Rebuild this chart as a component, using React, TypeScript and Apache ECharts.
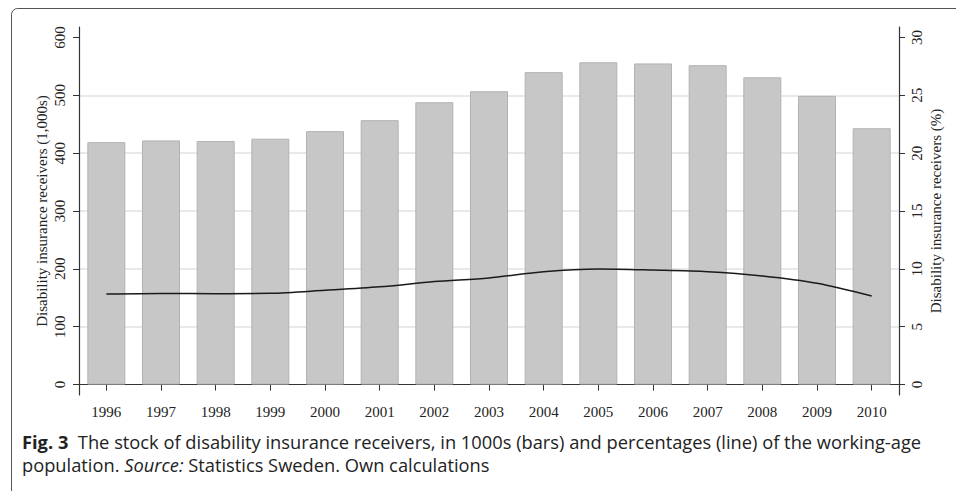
import React, { useEffect, useRef } from "react";
import * as echarts from "echarts";

const years = ["1996", "1997", "1998", "1999", "2000", "2001", "2002", "2003", "2004", "2005", "2006", "2007", "2008", "2009", "2010"];
const receivers = [419, 422, 421, 425, 438, 457, 488, 507, 540, 557, 555, 552, 531, 499, 443];
const percentages = [7.83, 7.88, 7.86, 7.89, 8.15, 8.45, 8.9, 9.22, 9.76, 9.99, 9.9, 9.76, 9.39, 8.76, 7.66];
const leftTicks = [0, 100, 200, 300, 400, 500, 600];
const rightTicks = [0, 5, 10, 15, 20, 25, 30];

const leftName = "Disability insurance receivers (1,000s)";
const rightName = "Disability insurance receivers (%)";
const captionLine1 = ["Fig. 3", "  The stock of disability insurance receivers, in 1000s (bars) and percentages (line) of the working-age"];
const captionLine2 = ["population. ", "Source:", " Statistics Sweden. Own calculations"];

const SERIF = "'Liberation Serif', 'Times New Roman', serif";
const SANS = "'Open Sans', 'Noto Sans', sans-serif";
const AXIS_COLOR = "#333";
const TEXT_COLOR = "#222";

export default function App() {
  const ref = useRef<HTMLDivElement>(null);

  useEffect(() => {
    if (!ref.current) return;
    const chart = echarts.init(ref.current, undefined, { renderer: "svg" });
    const capSize = 18.3;
    const option = {
      animation: false,
      backgroundColor: "#fff",
      grid: { left: 79, right: 57, top: 27, bottom: 96, containLabel: false },
      xAxis: {
        type: "category",
        data: years,
        boundaryGap: true,
        axisLine: { show: true, lineStyle: { color: AXIS_COLOR, width: 1.2 } },
        axisTick: { show: true, alignWithLabel: true, length: 6, lineStyle: { color: AXIS_COLOR } },
        axisLabel: { color: TEXT_COLOR, fontFamily: SERIF, fontSize: 15, margin: 9 },
        splitLine: { show: false },
      },
      yAxis: [
        {
          type: "value",
          position: "left",
          min: -18,
          max: 618,
          name: leftName,
          nameLocation: "middle",
          nameRotate: 90,
          nameGap: 30,
          nameMoveOverlap: false,
          nameTextStyle: { color: TEXT_COLOR, fontFamily: SERIF, fontSize: 15 },
          axisLine: { show: true, lineStyle: { color: AXIS_COLOR, width: 1.2 } },
          axisTick: { show: true, length: 6, customValues: leftTicks, lineStyle: { color: AXIS_COLOR } },
          axisLabel: { rotate: 90, customValues: leftTicks, color: TEXT_COLOR, fontFamily: SERIF, fontSize: 15, margin: 12 },
          splitLine: { show: true, showMinLine: false, showMaxLine: false, lineStyle: { color: "#e2e2e2", width: 1.5 } },
        },
        {
          type: "value",
          position: "right",
          min: -0.9,
          max: 30.9,
          name: rightName,
          nameLocation: "middle",
          nameRotate: 90,
          nameGap: 29,
          nameMoveOverlap: false,
          nameTextStyle: { color: TEXT_COLOR, fontFamily: SERIF, fontSize: 15 },
          axisLine: { show: true, lineStyle: { color: AXIS_COLOR, width: 1.2 } },
          axisTick: { show: true, length: 6, customValues: rightTicks, lineStyle: { color: AXIS_COLOR } },
          axisLabel: { rotate: 90, customValues: rightTicks, color: TEXT_COLOR, fontFamily: SERIF, fontSize: 15, margin: 10 },
          splitLine: { show: false },
        },
      ],
      series: [
        {
          type: "bar",
          data: receivers,
          yAxisIndex: 0,
          barWidth: 38,
          itemStyle: { color: "#c6c7c6", borderColor: "#b2b2b2", borderWidth: 1 },
          silent: true,
        },
        {
          type: "line",
          data: percentages,
          yAxisIndex: 1,
          symbol: "none",
          smooth: 0.3,
          lineStyle: { color: "#1a1a1a", width: 1.5 },
          silent: true,
        },
      ],
      graphic: [
        {
          type: "rect",
          shape: { x: 11.5, y: 8.5, width: 960, height: 520, r: 6 },
          style: { fill: "none", stroke: "#555", lineWidth: 1 },
          silent: true,
          z: 100,
        },
        {
          type: "text",
          x: 22,
          y: 441,
          style: {
            text: `{b|${captionLine1[0]}}{n|${captionLine1[1]}}`,
            verticalAlign: "middle",
            rich: {
              b: { fontFamily: SANS, fontSize: capSize, fontWeight: "bold", fill: "#222" },
              n: { fontFamily: SANS, fontSize: capSize, fill: "#222" },
            },
          },
          z: 100,
        },
        {
          type: "text",
          x: 22,
          y: 464,
          style: {
            text: `{n|${captionLine2[0]}}{i|${captionLine2[1]}}{n|${captionLine2[2]}}`,
            verticalAlign: "middle",
            rich: {
              i: { fontFamily: SANS, fontSize: capSize, fontStyle: "italic", fill: "#222" },
              n: { fontFamily: SANS, fontSize: capSize, fill: "#222" },
            },
          },
          z: 100,
        },
      ],
    };
    chart.setOption(option as any);
    return () => chart.dispose();
  }, []);

  return (
    <div
      ref={ref}
      style={{ position: "absolute", left: 0, top: 0, width: 956, height: 491 }}
    />
  );
}
